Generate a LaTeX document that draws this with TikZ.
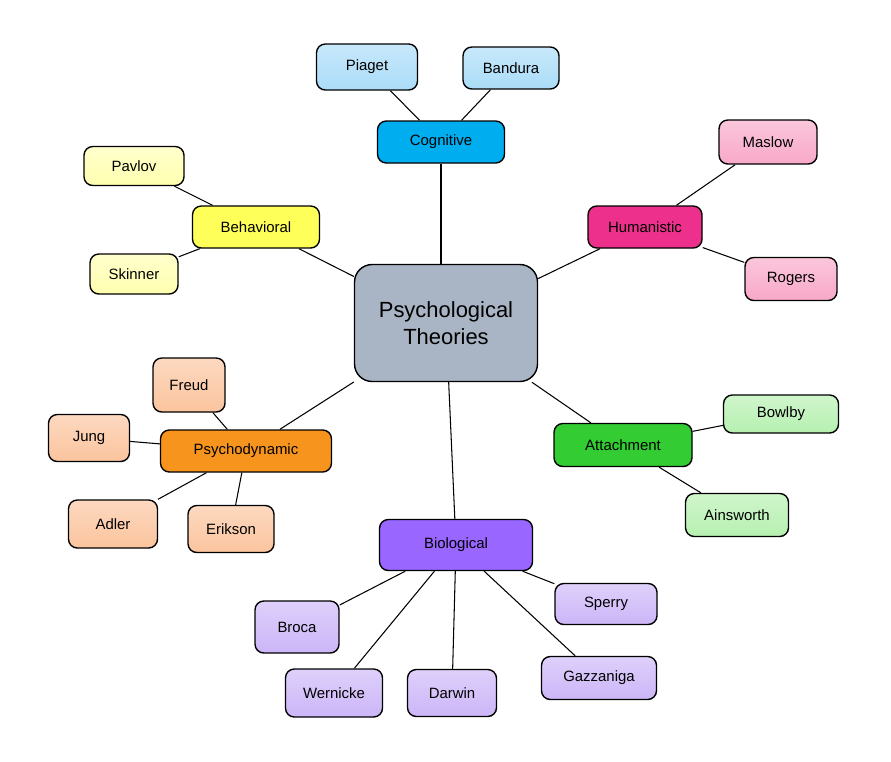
\documentclass[tikz,border=0pt]{standalone}
\usepackage{fontspec}
\setmainfont{Liberation Sans}
\definecolor{cogC}{RGB}{0,174,239}
\definecolor{cogL}{RGB}{170,220,248}
\definecolor{humC}{RGB}{236,48,140}
\definecolor{humL}{RGB}{248,168,200}
\definecolor{behC}{RGB}{255,255,90}
\definecolor{behL}{RGB}{255,255,176}
\definecolor{dynC}{RGB}{247,148,29}
\definecolor{dynL}{RGB}{251,196,158}
\definecolor{attC}{RGB}{51,204,51}
\definecolor{attL}{RGB}{182,240,176}
\definecolor{bioC}{RGB}{153,102,255}
\definecolor{bioL}{RGB}{204,182,248}
\definecolor{cenC}{RGB}{169,180,196}
\begin{document}
\begin{tikzpicture}[x=0.02cm,y=-0.02cm,
  box/.style={draw, thick, rounded corners=5pt, font=\fontsize{8.5}{10}\selectfont, align=center, inner sep=1pt},
  leaf/.style={box, top color=white!35!#1, bottom color=#1},
  link/.style={draw, semithick}]
\useasboundingbox (0,0) rectangle (891,761);

% centre
\node[box, fill=cenC, rounded corners=10pt, minimum width=3.66cm, minimum height=2.34cm, font=\fontsize{12.5}{15}\selectfont] (theories) at (446,323) {Psychological\\Theories};

% main branches
\node[box, fill=cogC, minimum width=2.54cm, minimum height=0.84cm] (cognitive) at (441,142) {Cognitive};
\node[box, fill=humC, minimum width=2.28cm, minimum height=0.84cm] (humanistic) at (645,227) {Humanistic};
\node[box, fill=behC, minimum width=2.54cm, minimum height=0.84cm] (behavioral) at (256,227) {Behavioral};
\node[box, fill=dynC, minimum width=3.42cm, minimum height=0.84cm] (psychodynamic) at (246,451) {Psychodynamic};
\node[box, fill=attC, minimum width=2.76cm, minimum height=0.86cm] (attachment) at (623,445) {Attachment};
\node[box, fill=bioC, minimum width=3.06cm, minimum height=1.02cm] (biological) at (456,545) {Biological};

% leaves
\node[leaf=cogL, minimum width=2.02cm, minimum height=0.92cm] (piaget) at (367,67) {Piaget};
\node[leaf=cogL, minimum width=1.92cm, minimum height=0.84cm] (bandura) at (511,68) {Bandura};
\node[leaf=humL, minimum width=1.96cm, minimum height=0.88cm] (maslow) at (768,142) {Maslow};
\node[leaf=humL, minimum width=1.84cm, minimum height=0.86cm] (rogers) at (791,279) {Rogers};
\node[leaf=behL, minimum width=2.00cm, minimum height=0.78cm] (pavlov) at (134,166) {Pavlov};
\node[leaf=behL, minimum width=1.76cm, minimum height=0.80cm] (skinner) at (134,274) {Skinner};
\node[leaf=dynL, minimum width=1.44cm, minimum height=1.08cm] (freud) at (189,385) {Freud};
\node[leaf=dynL, minimum width=1.62cm, minimum height=0.94cm] (jung) at (89,438) {Jung};
\node[leaf=dynL, minimum width=1.78cm, minimum height=0.96cm] (adler) at (113,524) {Adler};
\node[leaf=dynL, minimum width=1.72cm, minimum height=0.94cm] (erikson) at (231,529) {Erikson};
\node[leaf=attL, minimum width=2.30cm, minimum height=0.76cm] (bowlby) at (781,414) {Bowlby};
\node[leaf=attL, minimum width=2.06cm, minimum height=0.86cm] (ainsworth) at (737,515) {Ainsworth};
\node[leaf=bioL, minimum width=1.68cm, minimum height=1.04cm] (broca) at (297,627) {Broca};
\node[leaf=bioL, minimum width=1.94cm, minimum height=0.96cm] (wernicke) at (334,693) {Wernicke};
\node[leaf=bioL, minimum width=1.78cm, minimum height=0.94cm] (darwin) at (452,693) {Darwin};
\node[leaf=bioL, minimum width=2.30cm, minimum height=0.86cm] (gazzaniga) at (599,678) {Gazzaniga};
\node[leaf=bioL, minimum width=2.04cm, minimum height=0.82cm] (sperry) at (606,604) {Sperry};

% connectors
\path[link] (theories.north -| cognitive.south) -- (cognitive);
\path[link] (theories) -- (humanistic);
\path[link] (theories) -- (behavioral);
\path[link] (theories) -- (psychodynamic);
\path[link] (theories) -- (attachment);
\path[link] (theories) -- (biological);
\path[link] (cognitive) -- (piaget);
\path[link] (cognitive) -- (bandura);
\path[link] (humanistic) -- (maslow);
\path[link] (humanistic) -- (rogers);
\path[link] (behavioral) -- (pavlov);
\path[link] (behavioral) -- (skinner);
\path[link] (psychodynamic) -- (freud);
\path[link] (psychodynamic) -- (jung);
\path[link] (psychodynamic) -- (adler);
\path[link] (psychodynamic) -- (erikson);
\path[link] (attachment) -- (bowlby);
\path[link] (attachment) -- (ainsworth);
\path[link] (biological) -- (broca);
\path[link] (biological) -- (wernicke);
\path[link] (biological) -- (darwin);
\path[link] (biological) -- (gazzaniga);
\path[link] (biological) -- (sperry);
\end{tikzpicture}
\end{document}
